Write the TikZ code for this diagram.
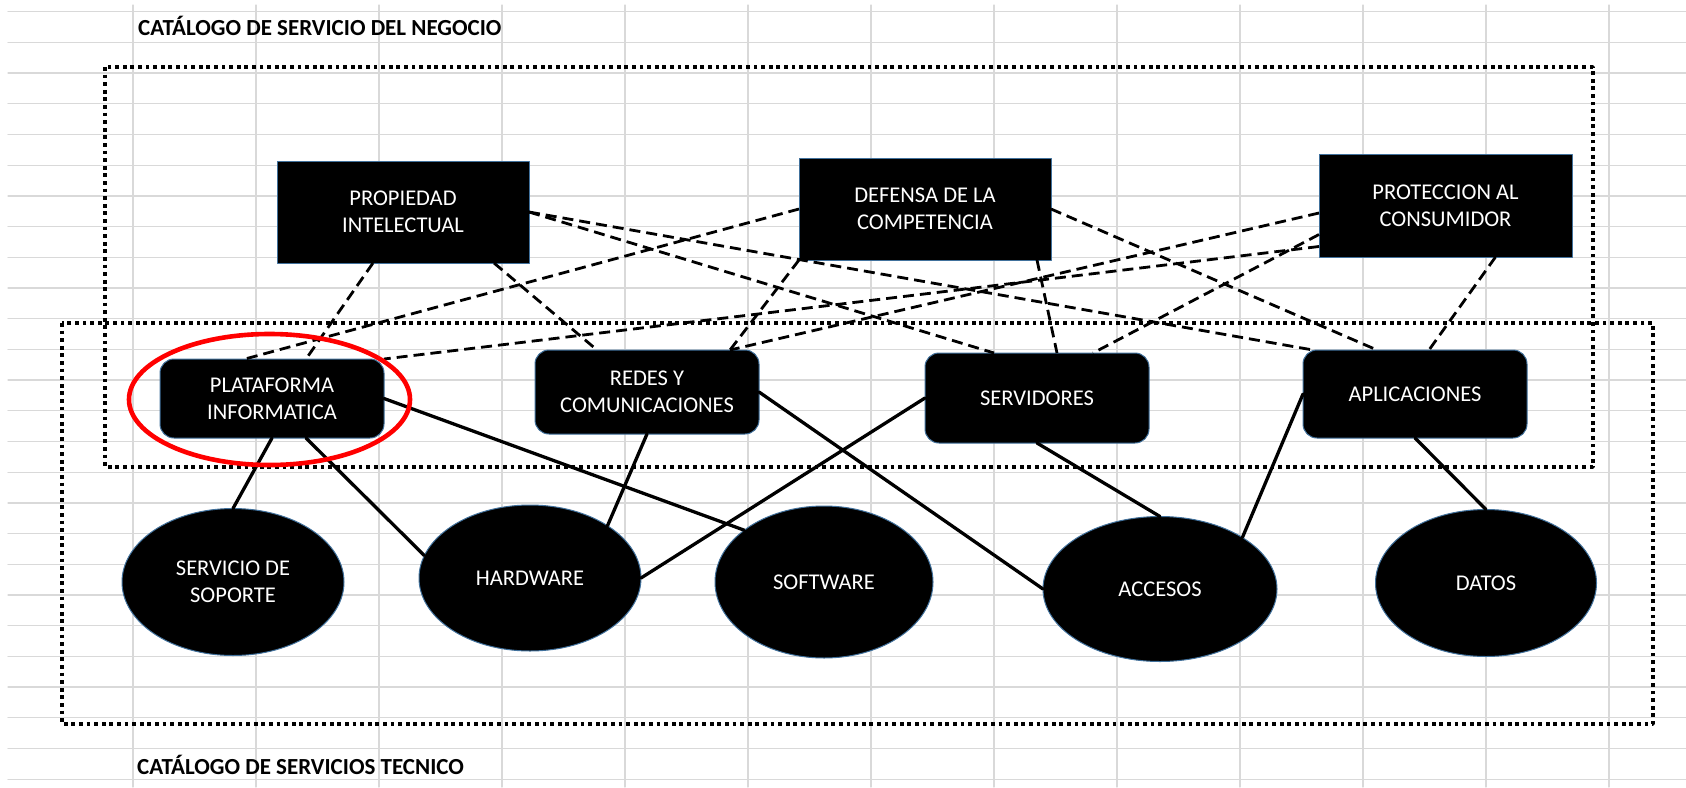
\documentclass[tikz,border=0pt]{standalone}
\usepackage{fontspec}
\setmainfont{Carlito}
\usetikzlibrary{shapes.geometric}

\begin{document}
\begin{tikzpicture}[
	x=1pt, y=-1pt,
	line cap=round,
	line join=round,
	rejilla/.style={draw={rgb,255:red,217;green,217;blue,217}, line width=1.3pt},
	marco/.style={line width=3.4pt, line cap=butt, dash pattern=on 3.8pt off 3.8pt},
	titulo/.style={inner sep=0pt, anchor=base west, font=\bfseries\fontsize{23}{27}\selectfont},
	negocio/.style={rectangle, fill=black, draw={rgb,255:red,65;green,113;blue,156},
		line width=1pt, text=white, align=center, inner sep=0pt, outer sep=0pt,
		font=\fontsize{22.5}{26.7}\selectfont},
	tecnico/.style={negocio, rounded corners=14pt},
	recurso/.style={negocio, ellipse},
	enlace/.style={line width=2.8pt, line cap=butt, dash pattern=on 11pt off 6pt},
	conexion/.style={line width=3.3pt}
	]
	\useasboundingbox (0,0) rectangle (1686,787);
	
	% Cuadricula de la hoja
	\foreach \i in {0,...,25}
	\draw[rejilla] (8,{11.7+30.7*\i}) -- (1686,{11.7+30.7*\i});
	\foreach \i in {0,...,12}
	\draw[rejilla] ({133+123*\i},5) -- ({133+123*\i},787);
	
	% Titulos
	\node[titulo] (tnegocio) at (138,35) {CATÁLOGO DE SERVICIO DEL NEGOCIO};
	\node[titulo] (ttecnico) at (137,774) {CATÁLOGO DE SERVICIOS TECNICO};
	
	% Marcos punteados
	\draw[marco] (105,67) rectangle (1593,467);
	\draw[marco] (62,323) rectangle (1653,724);
	
	% Servicios del negocio
	\node[negocio, minimum width=252, minimum height=102] (prop) at (403,212)
	{PROPIEDAD\\INTELECTUAL};
	\node[negocio, minimum width=252, minimum height=102] (def) at (925,209)
	{DEFENSA DE LA\\COMPETENCIA};
	\node[negocio, minimum width=253, minimum height=103] (prot) at (1445.5,205.5)
	{PROTECCION AL\\CONSUMIDOR};
	
	% Servicios tecnicos
	\node[tecnico, minimum width=224, minimum height=79] (plat) at (272,398.5)
	{PLATAFORMA\\INFORMATICA};
	\node[tecnico, minimum width=224, minimum height=84] (redes) at (647,392)
	{REDES Y\\COMUNICACIONES};
	\node[tecnico, minimum width=224, minimum height=90] (serv) at (1037,398)
	{SERVIDORES};
	\node[tecnico, minimum width=224, minimum height=88] (apl) at (1415,394)
	{APLICACIONES};
	
	% Recursos
	\node[recurso, minimum width=222, minimum height=147] (sop) at (233,582)
	{SERVICIO DE\\SOPORTE};
	\node[recurso, minimum width=222, minimum height=146] (hard) at (530,578)
	{HARDWARE};
	\node[recurso, minimum width=218, minimum height=152] (soft) at (824,582)
	{SOFTWARE};
	\node[recurso, minimum width=234, minimum height=145] (acc) at (1160,589)
	{ACCESOS};
	\node[recurso, minimum width=221, minimum height=147] (dat) at (1486,583)
	{DATOS};
	
	% Negocio -> tecnico
	\draw[enlace] ([xshift=-30pt]prop.south) -- ([xshift=34pt]plat.north);
	\draw[enlace] ([xshift=91pt]prop.south) -- ([xshift=-50pt]redes.north);
	\draw[enlace] (prop.east) -- ([xshift=-43pt]serv.north);
	\draw[enlace] (prop.east) -- ([xshift=10pt]apl.north west);
	
	\draw[enlace] (def.west) -- ([xshift=-27pt]plat.north);
	\draw[enlace] (def.south west) -- ([xshift=83pt]redes.north);
	\draw[enlace] ([xshift=112pt]def.south) -- ([xshift=20pt]serv.north);
	\draw[enlace] (def.east) -- ([xshift=-38pt]apl.north);
	
	\draw[enlace] ([yshift=-41pt]prot.west) -- (plat.north east);
	\draw[enlace] ([yshift=-7.5pt]prot.west) -- ([xshift=83pt]redes.north);
	\draw[enlace] ([yshift=-29pt]prot.west) -- ([xshift=56pt]serv.north);
	\draw[enlace] ([xshift=50pt]prot.south) -- ([xshift=14pt]apl.north);
	
	% Tecnico -> recursos
	\draw[conexion] (plat.south) -- (sop.north);
	\draw[conexion] ([xshift=34pt]plat.south) -- (hard.168);
	\draw[conexion] (plat.east) -- (soft.147);
	\draw[conexion] (redes.south) -- (hard.34);
	\draw[conexion] (redes.east) -- (acc.west);
	\draw[conexion] (serv.west) -- (hard.east);
	\draw[conexion] (serv.south) -- (acc.north);
	\draw[conexion] (apl.west) -- (acc.32);
	\draw[conexion] (apl.south) -- (dat.north);
	
	% Marca roja
	\draw[red, line width=4.6pt] ([xshift=-2.5pt,yshift=-1pt]plat.center)
	ellipse [x radius=140.5, y radius=65.5];
	
\end{tikzpicture}
\end{document}
